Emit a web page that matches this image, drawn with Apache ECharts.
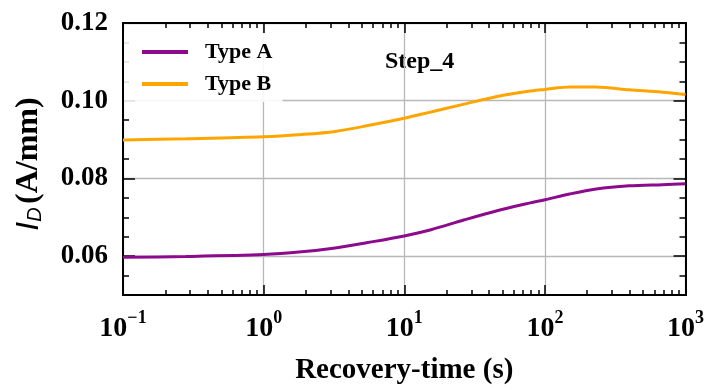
<!DOCTYPE html>
<html>
<head>
<meta charset="utf-8">
<script src="https://cdn.jsdelivr.net/npm/echarts@6/dist/echarts.min.js"></script>
<style>html,body{margin:0;padding:0;background:#fff;}#c{width:707px;height:390px;}</style>
</head>
<body>
<div id="c"></div>
<script>
// ---- data ----
const timeA = [0.1, 0.28, 1, 1.86, 3.23, 5.5, 10, 15.5, 26.5, 45.7, 78.7, 100, 150, 232, 397, 684, 1000];
const typeA = [0.0597, 0.0599, 0.0604, 0.0611, 0.0621, 0.0635, 0.0652, 0.0668, 0.0693, 0.0717, 0.0737, 0.0745, 0.0760, 0.0773, 0.0781, 0.0784, 0.0786];
const timeB = [0.1, 0.28, 1, 1.86, 3.23, 5.5, 10, 15.5, 25.8, 45.7, 78.7, 100, 150, 232, 397, 684, 1000];
const typeB = [0.0899, 0.0902, 0.0907, 0.0913, 0.0921, 0.0936, 0.0955, 0.0971, 0.0990, 0.1011, 0.1025, 0.1029, 0.1035, 0.1035, 0.1028, 0.1022, 0.1016];
const seriesNames = ['Type A', 'Type B'];
const xMajorTicks = [0.1, 1, 10, 100, 1000];
const yMajorTicks = [0.06, 0.08, 0.10, 0.12];
const yMinorStep = 0.005;
const annotation = 'Step_4';

const yMinorTicks = [];
for (let v = 0.05; v <= 0.1200001; v += yMinorStep) yMinorTicks.push(+v.toFixed(4));

const serif = 'Liberation Serif';
const frame = () => ({show: true, lineStyle: {color: '#000', width: 2}});
const blankLabel = (vals) => ({show: true, customValues: vals, formatter: () => '', color: 'rgba(0,0,0,0)'});

function xAxisDef(pos) {
  return {
    type: 'log', logBase: 10, min: 0.1, max: 1000, position: pos,
    axisLine: frame(),
    axisTick: {show: true, inside: true, length: 10, lineStyle: {color: '#000', width: 1.5}},
    minorTick: {show: true, splitNumber: 9, length: 5, lineStyle: {color: '#000', width: 1.5}},
    axisLabel: {show: false},
    splitLine: {show: false}
  };
}
function yAxisDef(pos, ticks, len) {
  return {
    type: 'value', min: 0.05, max: 0.12, position: pos,
    axisLine: frame(),
    axisTick: {show: true, inside: true, length: len, customValues: ticks, lineStyle: {color: '#000', width: 1.5}},
    axisLabel: blankLabel(ticks),
    splitLine: {show: false}
  };
}

const xMain = xAxisDef('bottom');
xMain.axisLabel = {
  show: true, margin: 14,
  formatter: function (v) {
    const e = Math.round(Math.log10(v));
    return '{b|10}{s|' + (e < 0 ? '\u2212' + (-e) : e) + '}';
  },
  rich: {
    b: {fontFamily: serif, fontWeight: 'bold', fontSize: 28, color: '#000', verticalAlign: 'bottom', lineHeight: 34},
    s: {fontFamily: serif, fontWeight: 'bold', fontSize: 18, color: '#000', verticalAlign: 'top', lineHeight: 18}
  }
};
xMain.splitLine = {show: true, lineStyle: {color: '#b8b8b8', width: 1.3}};
xMain.name = 'Recovery-time (s)';
xMain.nameLocation = 'middle';
xMain.nameGap = 61;
xMain.nameTextStyle = {fontFamily: serif, fontWeight: 'bold', fontSize: 29, color: '#000'};

const yMain = yAxisDef('left', yMajorTicks, 12);
yMain.axisLabel = {
  show: true, customValues: yMajorTicks, margin: 15,
  formatter: function (v) { return v.toFixed(2); },
  fontFamily: serif, fontWeight: 'bold', fontSize: 27, color: '#000'
};
yMain.splitLine = {show: true, lineStyle: {color: '#b8b8b8', width: 1.3}};
yMain.name = '{i|I}{d|D} {t|(A/mm)}';
yMain.nameLocation = 'middle';
yMain.nameGap = 78;
yMain.nameRotate = 90;
yMain.nameTextStyle = {
  padding: [0, 10, 0, 0],
  rich: {
    i: {fontFamily: 'Liberation Sans', fontStyle: 'italic', fontSize: 32, color: '#000', verticalAlign: 'bottom', lineHeight: 34},
    d: {fontFamily: 'Liberation Sans', fontStyle: 'italic', fontSize: 20, color: '#000', verticalAlign: 'bottom', lineHeight: 26},
    t: {fontFamily: serif, fontWeight: 'bold', fontSize: 32, color: '#000', verticalAlign: 'bottom', lineHeight: 34}
  }
};

const chart = echarts.init(document.getElementById('c'), null, {renderer: 'canvas'});
chart.setOption({
  animation: false,
  backgroundColor: '#fff',
  grid: {left: 123, right: 17, top: 23, bottom: 92, containLabel: false},
  legend: {
    orient: 'vertical', left: 124, top: 33,
    padding: [8, 10, 7, 18],
    backgroundColor: 'rgba(255,255,255,0.88)',
    itemWidth: 46, itemHeight: 4, itemGap: 10,
    icon: 'rect',
    data: seriesNames,
    textStyle: {fontFamily: serif, fontWeight: 'bold', fontSize: 22, color: '#000', lineHeight: 20, padding: [2, 0, 0, 12]}
  },
  graphic: [{
    type: 'text', left: 385, top: 50,
    style: {text: annotation, fontFamily: serif, fontWeight: 'bold', fontSize: 24, fill: '#000'}
  }],
  xAxis: [
    xMain,
    xAxisDef('top')
  ],
  yAxis: [
    yMain,
    yAxisDef('left', yMinorTicks, 6),
    yAxisDef('right', yMajorTicks, 12),
    yAxisDef('right', yMinorTicks, 6)
  ],
  series: [
    {name: seriesNames[0], type: 'line', xAxisIndex: 0, yAxisIndex: 0, showSymbol: false, smooth: 0.3,
     lineStyle: {color: '#8c0a8c', width: 3}, itemStyle: {color: '#8c0a8c'},
     data: timeA.map((t, i) => [t, typeA[i]])},
    {name: seriesNames[1], type: 'line', xAxisIndex: 0, yAxisIndex: 0, showSymbol: false, smooth: 0.3,
     lineStyle: {color: '#ffa500', width: 3}, itemStyle: {color: '#ffa500'},
     data: timeB.map((t, i) => [t, typeB[i]])}
  ]
});
</script>
</body>
</html>
